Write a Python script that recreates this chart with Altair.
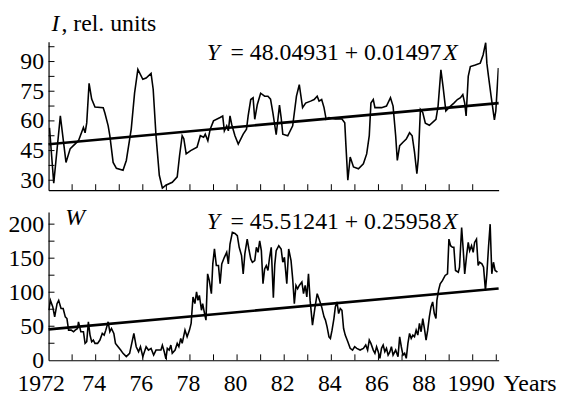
import altair as alt
import pandas as pd

# ---------------- data ----------------
top_year = [1972.04, 1972.22, 1972.50, 1972.74, 1972.92, 1973.27, 1973.48, 1973.55, 1973.62, 1973.72,
            1973.83, 1973.97, 1974.32, 1974.39, 1974.53, 1974.60, 1974.74, 1974.88, 1975.16, 1975.30,
            1975.51, 1975.65, 1975.79, 1976.00, 1976.14, 1976.35, 1976.44, 1976.56, 1976.70, 1976.83,
            1976.98, 1977.25, 1977.46, 1977.56, 1977.67, 1977.74, 1977.84, 1978.03, 1978.30, 1978.44,
            1978.58, 1978.65, 1978.76, 1978.86, 1979.00, 1979.28, 1979.39, 1979.46, 1979.56, 1979.63,
            1979.70, 1979.77, 1979.91, 1980.05, 1980.26, 1980.40, 1980.47, 1980.58, 1980.68, 1980.75,
            1980.86, 1981.00, 1981.17, 1981.31, 1981.42, 1981.52, 1981.66, 1981.80, 1981.87, 1981.94,
            1982.15, 1982.36, 1982.52, 1982.64, 1982.78, 1982.91, 1983.12, 1983.27, 1983.40, 1983.48,
            1983.59, 1983.69, 1983.78, 1983.90, 1984.17, 1984.45, 1984.57, 1984.62, 1984.70, 1984.80,
            1984.94, 1985.15, 1985.36, 1985.50, 1985.61, 1985.68, 1985.78, 1985.85, 1986.13, 1986.34,
            1986.51, 1986.62, 1986.73, 1986.80, 1986.90, 1987.04, 1987.18, 1987.32, 1987.43, 1987.53,
            1987.63, 1987.69, 1987.78, 1987.88, 1987.99, 1988.16, 1988.44, 1988.53, 1988.65, 1988.74,
            1988.86, 1988.99, 1989.20, 1989.35, 1989.48, 1989.58, 1989.66, 1989.72, 1989.81, 1989.90,
            1990.11, 1990.32, 1990.44, 1990.55, 1990.60, 1990.67, 1990.78, 1990.92, 1990.98, 1991.09]
top_value = [56.5, 28.5, 62.5, 39, 46, 50, 56.7, 54, 59, 79,
             71, 67, 66.7, 64, 57.5, 52.5, 39, 36, 35, 40,
             56, 74, 86, 81, 81.7, 84, 76, 52.5, 32.5, 26,
             27.5, 29, 31.7, 42.5, 52.5, 51, 43.3, 45, 46.7, 52.5,
             51.7, 53.3, 50, 55.8, 60, 61.7, 62.5, 55, 57.5, 55,
             62.5, 58.3, 52.5, 48.3, 53.3, 55.8, 62.5, 70.8, 71.7, 60.8,
             68.3, 74, 72.5, 72.5, 71, 64, 53, 68, 61.7, 53.3,
             52.5, 57.5, 72.5, 78.3, 66.7, 69, 70, 70.8, 72.5, 70,
             70.8, 66.7, 60.8, 61.7, 61, 61, 59, 47.5, 30, 41.7,
             36.7, 35.8, 38.3, 43.3, 52.5, 69, 70.8, 66.7, 66.7, 67.5,
             71.7, 67.5, 52.5, 40, 47.5, 49.2, 50.8, 54, 52.5, 44.2,
             33.3, 40.8, 65.8, 64.2, 58.8, 57.8, 60.8, 67.5, 85.8, 77.5,
             65, 66.7, 69, 70.8, 71.7, 73.3, 69, 62.5, 82.5, 87.5,
             88.3, 89.2, 93.3, 99.5, 89.2, 82.5, 72.5, 60.5, 65, 86.7]

bot_year = [1972.01, 1972.08, 1972.18, 1972.26, 1972.36, 1972.43, 1972.53, 1972.62, 1972.71, 1972.78,
            1972.85, 1972.96, 1973.06, 1973.13, 1973.23, 1973.27, 1973.37, 1973.48, 1973.55, 1973.62,
            1973.69, 1973.76, 1973.83, 1973.90, 1973.97, 1974.08, 1974.18, 1974.28, 1974.36, 1974.43,
            1974.53, 1974.60, 1974.67, 1974.77, 1974.84, 1974.95, 1975.06, 1975.16, 1975.30, 1975.44,
            1975.53, 1975.62, 1975.72, 1975.82, 1975.90, 1976.00, 1976.14, 1976.24, 1976.35, 1976.46,
            1976.56, 1976.65, 1976.77, 1976.83, 1976.91, 1976.98, 1977.04, 1977.12, 1977.19, 1977.25,
            1977.37, 1977.46, 1977.53, 1977.61, 1977.67, 1977.79, 1977.88, 1977.98, 1978.05, 1978.13,
            1978.21, 1978.28, 1978.34, 1978.40, 1978.49, 1978.54, 1978.62, 1978.68, 1978.75, 1978.82,
            1978.91, 1978.97, 1979.04, 1979.12, 1979.21, 1979.28, 1979.35, 1979.46, 1979.56, 1979.63,
            1979.70, 1979.80, 1979.91, 1980.01, 1980.09, 1980.19, 1980.26, 1980.33, 1980.43, 1980.50,
            1980.58, 1980.65, 1980.75, 1980.82, 1980.89, 1980.96, 1981.03, 1981.10, 1981.17, 1981.24,
            1981.31, 1981.38, 1981.45, 1981.54, 1981.60, 1981.66, 1981.77, 1981.87, 1981.94, 1982.01,
            1982.11, 1982.19, 1982.29, 1982.36, 1982.43, 1982.50, 1982.57, 1982.64, 1982.75, 1982.82,
            1982.89, 1982.96, 1983.03, 1983.10, 1983.20, 1983.31, 1983.40, 1983.50, 1983.59, 1983.69,
            1983.75, 1983.82, 1983.90, 1983.96, 1984.03, 1984.11, 1984.17, 1984.24, 1984.31, 1984.38,
            1984.45, 1984.52, 1984.59, 1984.70, 1984.80, 1984.90, 1984.99, 1985.08, 1985.22, 1985.36,
            1985.46, 1985.54, 1985.61, 1985.68, 1985.78, 1985.85, 1985.92, 1985.99, 1986.06, 1986.13,
            1986.20, 1986.27, 1986.34, 1986.41, 1986.48, 1986.55, 1986.62, 1986.73, 1986.83, 1986.90,
            1986.97, 1987.04, 1987.11, 1987.18, 1987.25, 1987.32, 1987.39, 1987.46, 1987.53, 1987.60,
            1987.67, 1987.74, 1987.81, 1987.88, 1987.95, 1988.02, 1988.09, 1988.16, 1988.23, 1988.30,
            1988.37, 1988.44, 1988.48, 1988.55, 1988.62, 1988.72, 1988.83, 1988.93, 1988.99, 1989.06,
            1989.14, 1989.20, 1989.27, 1989.39, 1989.44, 1989.53, 1989.60, 1989.66, 1989.74, 1989.81,
            1989.87, 1989.95, 1990.02, 1990.08, 1990.16, 1990.23, 1990.29, 1990.39, 1990.46, 1990.54,
            1990.60, 1990.67, 1990.74, 1990.81, 1990.88, 1990.95, 1991.05]
bot_value = [73.5, 88, 78.4, 63.8, 83.2, 88, 76, 76, 63.8, 61.3,
             44.3, 44.3, 41.9, 44.3, 46.7, 56.5, 41.9, 41.9, 24.8, 27.3,
             56.5, 37, 27.3, 29.7, 24.8, 24.8, 29.7, 39.4, 37, 44.3,
             56.5, 41.9, 46.7, 39.4, 24.8, 19.9, 15, 10.2, 5.3, 10.2,
             24.8, 39.4, 19.9, 12.6, 19.9, 5.3, 19.9, 15, 17.5, 7.7,
             15, 15, 15, 22, 12.6, 2, 17.5, 15, 22.4, 10.2,
             15, 24.8, 19.9, 32.1, 24.8, 44.3, 34.5, 44.3, 54.1, 93,
             83.2, 100.4, 88, 95.4, 73.5, 83.2, 68.6, 59, 127, 117.5,
             97.8, 141.6, 163.6, 139.2, 139.2, 112.4, 141.6, 151.3, 158.6, 141.6,
             170.8, 187.9, 186.4, 183, 166, 153.8, 127, 156.2, 178.1, 163.5,
             148.9, 144, 146.5, 166, 158.6, 175.6, 161, 112.4, 134.3, 139.2,
             131.9, 151.3, 166, 92, 141, 161, 168.3, 163.5, 144, 151.3,
             112.4, 163.5, 146.5, 119.7, 83.2, 110, 105.1, 110, 114.9, 97.8,
             110, 93, 127, 88, 51.6, 78.4, 97.8, 88, 78.4, 63.8,
             59, 49.2, 34.5, 32.1, 44.3, 61.3, 78.4, 85.7, 68.6, 76,
             73.5, 46.7, 37, 27.3, 17.5, 15, 19.9, 17.5, 15, 17.5,
             22.4, 15, 29.7, 24.8, 15, 10.2, 19.9, 12.6, 2.9, 17.5,
             22.4, 12.6, 17.5, 7.7, 12, 19.9, 7.7, 15, 5.3, 34.5,
             19.9, 7.7, 10.2, 2.9, 24.8, 39.4, 32.1, 37, 34.5, 44.3,
             37, 54.1, 41.9, 61.3, 46.7, 29.7, 44.3, 63.8, 78.4, 85.7,
             68.6, 61.3, 88, 102.7, 112.4, 117.3, 124.6, 127, 178, 168.3,
             166, 166, 131.9, 129.4, 136.7, 195, 161, 127, 153.8, 173.2,
             161, 168.3, 158.6, 173.2, 178, 139.2, 144, 141.6, 136.7, 102.7,
             127, 166, 200, 127, 144, 131.9, 129.4]

top_fit_year = [1972.0, 1991.1]
top_fit_value = [48.2, 69.0]
bot_fit_year = [1972.0, 1991.1]
bot_fit_value = [45.5, 105.5]

top_y_labels = [30, 45, 60, 75, 90]
top_y_ticks = [30, 37.5, 45, 52.5, 60, 67.5, 75, 82.5, 90, 97.5]
bot_y_labels = [0, 50, 100, 150, 200]
bot_y_ticks = [25, 50, 75, 100, 125, 150, 175, 200]
top_x_ticks = list(range(1973, 1991))
bot_x_ticks = list(range(1973, 1992))
x_labels = [1972, 1974, 1976, 1978, 1980, 1982, 1984, 1986, 1988, 1990]

top_eq = "= 48.04931 + 0.01497"
bot_eq = "= 45.51241 + 0.25958"

# ---------------- chart ----------------
FONT = "'Liberation Serif', 'Times New Roman', 'DejaVu Serif', serif"
FS = 24
W, H = 455, 150
TL = 6  # tick length

xscale = alt.Scale(domain=[1972, 1991.1], nice=False, zero=False)
top_scale = alt.Scale(domain=[25, 100], nice=False, zero=False)
bot_scale = alt.Scale(domain=[0, 218], nice=False, zero=False)

x_axis_top = alt.Axis(labels=False, ticks=False, grid=False, title=None)
x_axis_bot = alt.Axis(values=x_labels, format="d",
                      labelExpr="datum.value == 1972 || datum.value == 1990 ? datum.label : slice(datum.label, 2)",
                      ticks=False, grid=False, title=None, labelPadding=12,
                      labelOverlap=False, labelFlush=False,
                      labelOffset={"condition": {"test": "datum.value == 1972", "value": -8}, "value": -2})
y_axis_top = alt.Axis(values=top_y_labels, ticks=False, grid=False, title=None, labelPadding=5,
                      labelOverlap=False, labelFlush=False)
y_axis_bot = alt.Axis(values=bot_y_labels, ticks=False, grid=False, title=None, labelPadding=5,
                      labelOverlap=False, labelFlush=False)


def txt(s, x, y, italic=False, align="left"):
    return alt.Chart(pd.DataFrame({"t": [s]})).mark_text(
        align=align, baseline="alphabetic", font=FONT, fontSize=FS,
        fontStyle="italic" if italic else "normal", color="black"
    ).encode(x=alt.value(x), y=alt.value(y), text="t:N")


def panel(years, values, fit_y, fit_v, yscale, xaxis, yaxis, yticks, xticks, texts):
    def X():
        return alt.X("year:Q", scale=xscale, axis=xaxis)

    def Y():
        return alt.Y("value:Q", scale=yscale, axis=yaxis)

    line = alt.Chart(pd.DataFrame({"year": years, "value": values})).mark_line(
        color="black", strokeWidth=1.6, clip=True).encode(x=X(), y=Y())
    fit = alt.Chart(pd.DataFrame({"year": fit_y, "value": fit_v})).mark_line(
        color="black", strokeWidth=2.7).encode(x=X(), y=Y())
    yt = alt.Chart(pd.DataFrame({"value": yticks})).mark_rule(
        color="black", strokeWidth=1).encode(y=Y(), x=alt.value(0), x2=alt.value(TL))
    xt = alt.Chart(pd.DataFrame({"year": xticks})).mark_rule(
        color="black", strokeWidth=1).encode(x=X(), y=alt.value(H), y2=alt.value(H - TL))
    return alt.layer(line, fit, yt, xt, *texts).properties(width=W, height=H)


top = panel(top_year, top_value, top_fit_year, top_fit_value, top_scale,
            x_axis_top, y_axis_top, top_y_ticks, top_x_ticks,
            [txt("I", 3, -11, italic=True),
             txt(", rel. units", 13, -11),
             txt("Y", 160, 18, italic=True),
             txt(top_eq, 397, 18, align="right"),
             txt("X", 399, 18, italic=True)])

bottom = panel(bot_year, bot_value, bot_fit_year, bot_fit_value, bot_scale,
               x_axis_bot, y_axis_bot, bot_y_ticks, bot_x_ticks,
               [txt("W", 17, 13, italic=True),
                txt("Y", 160, 17, italic=True),
                txt(bot_eq, 397, 17, align="right"),
                txt("X", 399, 17, italic=True),
                txt("Years", 460, H + 31)])

chart = alt.vconcat(top, bottom, spacing=22, bounds="flush").properties(
    padding={"left": 0, "top": 2, "right": 0, "bottom": 0}
).configure_view(stroke=None).configure_axis(
    domainColor="black", domainWidth=1.2, labelColor="black",
    labelFont=FONT, labelFontSize=FS
)

chart.save("out.html", embed_options={"renderer": "svg", "actions": False})
